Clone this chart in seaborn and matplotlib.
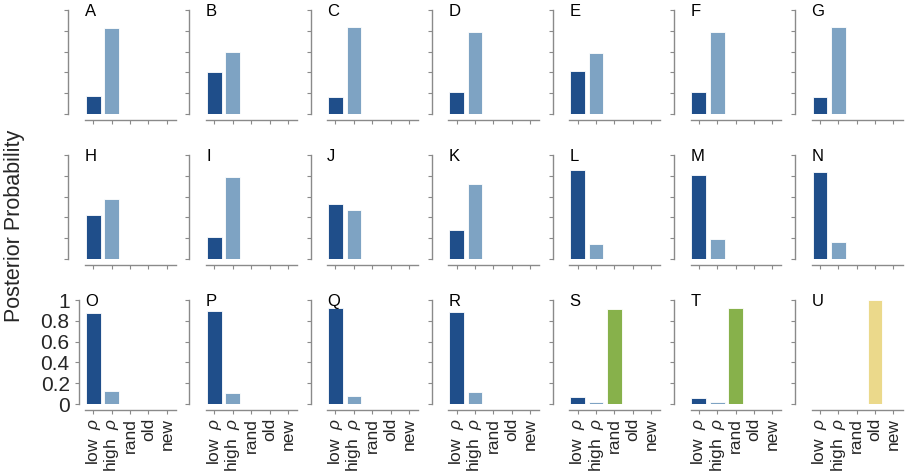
import matplotlib
matplotlib.use("Agg")
import matplotlib.pyplot as plt
import seaborn as sns
import pandas as pd

sns.set_theme(style="white")
plt.rcParams['font.family'] = ['Liberation Sans', 'DejaVu Sans']
plt.rcParams['mathtext.fontset'] = 'custom'
plt.rcParams['mathtext.it'] = 'Liberation Sans:italic'
plt.rcParams['mathtext.rm'] = 'Liberation Sans'

categories = ["low  $\\rho$", "high  $\\rho$", "rand", "old", "new"]
panel_labels = list("ABCDEFGHIJKLMNOPQRSTU")

low_rho  = [0.17, 0.40, 0.16, 0.21, 0.41, 0.21, 0.16,
            0.42, 0.21, 0.53, 0.28, 0.86, 0.81, 0.84,
            0.875, 0.89, 0.92, 0.88, 0.07, 0.06, 0.003]
high_rho = [0.83, 0.60, 0.84, 0.79, 0.59, 0.79, 0.84,
            0.58, 0.79, 0.47, 0.72, 0.14, 0.19, 0.16,
            0.125, 0.11, 0.08, 0.12, 0.015, 0.015, 0.0]
rand     = [0.0] * 18 + [0.915, 0.925, 0.0]
old      = [0.0] * 20 + [1.0]
new      = [0.0] * 21

yticks = [0, 0.2, 0.4, 0.6, 0.8, 1]
ytick_labels = ["0", "0.2", "0.4", "0.6", "0.8", "1"]

palette = {
    categories[0]: "#1f4e8a",
    categories[1]: "#7ea3c3",
    categories[2]: "#87b14b",
    categories[3]: "#ebd98b",
    categories[4]: "#999999",
}

W, H = 906, 471
fig = plt.figure(figsize=(W / 100, H / 100), dpi=100)

col_x = [85 + 121.1 * k for k in range(7)]
row_top = [10, 155, 300]
ax_w, ax_h = 91, 104
spine_col = "#8a8a8a"

for i, lab in enumerate(panel_labels):
    r, c = divmod(i, 7)
    left = col_x[c] / W
    bottom = 1 - (row_top[r] + ax_h) / H
    ax = fig.add_axes([left, bottom, ax_w / W, ax_h / H])
    df = pd.DataFrame({
        "cat": categories,
        "val": [low_rho[i], high_rho[i], rand[i], old[i], new[i]],
    })
    sns.barplot(data=df, x="cat", y="val", hue="cat", order=categories,
                hue_order=categories, palette=palette, legend=False,
                width=0.8, saturation=1, edgecolor="white", linewidth=0.6,
                ax=ax)
    ax.set_xlim(-0.45, 4.5)
    ax.set_ylim(0, 1)
    ax.set_xlabel("")
    ax.set_ylabel("")
    for s in ["top", "right"]:
        ax.spines[s].set_visible(False)
    first = (r == 2 and c == 0)
    ax.spines["left"].set_position(("outward", 4 if first else 12))
    ax.spines["bottom"].set_position(("outward", 4))
    for s in ["left", "bottom"]:
        ax.spines[s].set_color(spine_col)
        ax.spines[s].set_linewidth(1.0)
    ax.set_yticks(yticks)
    ax.tick_params(axis="both", which="both", direction="out", length=3,
                   width=0.8, color=spine_col, pad=2,
                   left=True, bottom=True)
    ax.tick_params(axis="y", labelsize=15, pad=4)
    ax.tick_params(axis="x", labelsize=12.5, pad=3)
    if first:
        ax.set_yticklabels(ytick_labels)
    else:
        ax.set_yticklabels([])
    ax.set_xticks(range(len(categories)))
    if r == 2:
        ax.set_xticklabels(categories, rotation=90, ha="center", va="top")
    else:
        ax.set_xticklabels([])
    ax.text(0.0, 1.06, lab, transform=ax.transAxes, ha="left", va="top",
            fontsize=12, color="black")

fig.text(0.004, 0.52, "Posterior Probability", rotation=90, ha="left",
         va="center", fontsize=15.5)

fig.savefig("out.png", dpi=100)
